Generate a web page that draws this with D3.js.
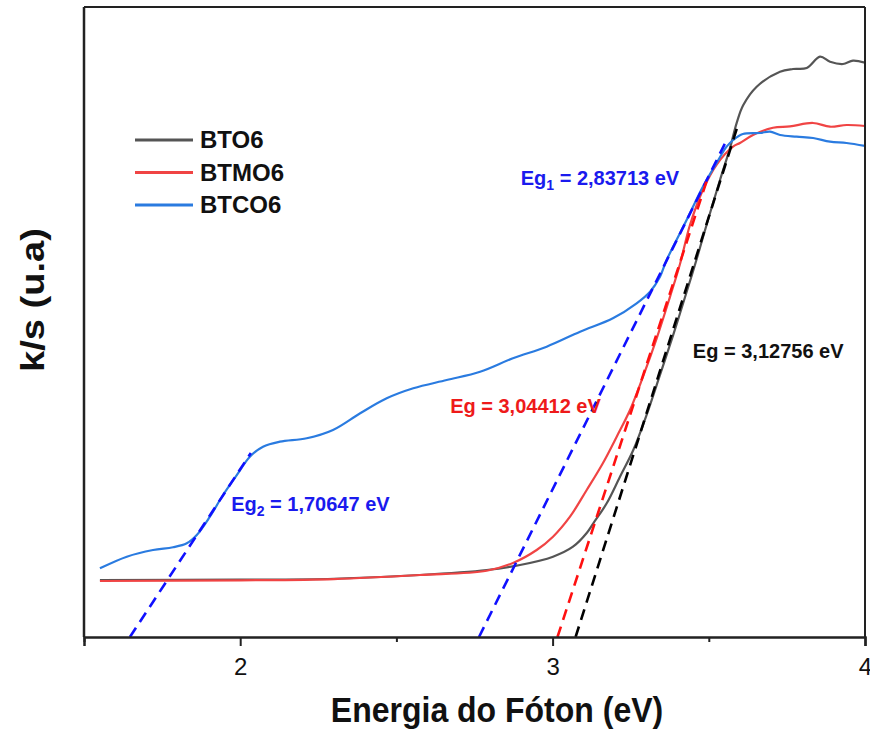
<!DOCTYPE html>
<html>
<head>
<meta charset="utf-8">
<script src="https://cdn.jsdelivr.net/npm/d3@7"></script>
<style>
  body { margin: 0; background: #fff; }
  svg text { font-family: "Liberation Sans", Arial, sans-serif; }
</style>
</head>
<body>
<div id="chart"></div>
<script>
// energy (eV) and k/s (arbitrary units)
let bto6 = [
  [1.551, 9.05], [2.0, 9.1], [2.3, 9.25], [2.5755, 9.84], [2.789, 10.63], [2.8956, 11.43],
  [3.0013, 12.75], [3.0653, 14.33], [3.1092, 16.51], [3.1303, 18.05], [3.1732, 21.22],
  [3.2157, 25.44], [3.2583, 29.68], [3.3012, 35.3], [3.3438, 41.6], [3.3864, 48.0],
  [3.4292, 54.8], [3.4613, 60.0], [3.4974, 66.19], [3.5358, 72.54], [3.5678, 77.6],
  [3.5893, 81.6], [3.6100, 84.4], [3.6533, 87.35], [3.7279, 89.73], [3.7695, 90.16],
  [3.8134, 90.32], [3.8559, 92.11], [3.888, 91.32], [3.9296, 90.95], [3.9616, 91.48], [4.0, 91.16]
];
let btmo6 = [
  [1.551, 8.89], [2.0, 9.0], [2.3, 9.2], [2.5755, 9.84], [2.789, 10.52], [2.8732, 11.75],
  [2.949, 13.81], [3.0013, 15.92], [3.0557, 19.1], [3.1092, 23.33], [3.1613, 27.62],
  [3.2052, 31.79], [3.2478, 36.03], [3.2894, 41.32], [3.3332, 47.4], [3.3758, 54.0],
  [3.4078, 59.2], [3.4397, 65.4], [3.4814, 71.0], [3.5253, 75.0], [3.5775, 77.83],
  [3.5998, 78.41], [3.6415, 79.68], [3.7055, 80.83], [3.7599, 81.05], [3.8335, 81.59],
  [3.888, 81.0], [3.9414, 81.27], [4.0, 81.11]
];
let btco6 = [
  [1.551, 10.9], [1.637, 12.75], [1.721, 13.81], [1.785, 14.24], [1.829, 14.87], [1.861, 16.19],
  [1.903, 19.1], [1.945, 22.54], [1.989, 25.71], [2.031, 28.62], [2.073, 30.21], [2.127, 31.0],
  [2.213, 31.54], [2.297, 32.86], [2.384, 35.51], [2.469, 37.89], [2.554, 39.48], [2.661, 40.79],
  [2.768, 42.11], [2.873, 44.24], [2.981, 46.08], [3.088, 48.46], [3.193, 50.59], [3.269, 52.97],
  [3.312, 54.81], [3.3438, 57.19], [3.365, 59.84], [3.429, 66.19], [3.481, 71.48], [3.525, 75.24],
  [3.557, 77.83], [3.578, 78.89], [3.609, 79.84], [3.664, 80.0], [3.696, 80.21], [3.728, 79.68],
  [3.781, 79.41], [3.834, 79.21], [3.888, 78.62], [3.941, 78.41], [4.0, 77.94]
];

let seriesNames = ["BTO6", "BTMO6", "BTCO6"];
let seriesColors = ["#555555", "#f04444", "#2a7be0"];

// tangent lines used for the band gap estimates
let fitLines = [
  { name: "Eg2", color: "#1010ff", pts: [[1.647, 0], [2.034, 29.2]] },
  { name: "Eg1", color: "#1010ff", pts: [[2.7644, 0], [3.5573, 78.89]] },
  { name: "BTMO6", color: "#ff1010", pts: [[3.0156, 0], [3.4942, 72.54]] },
  { name: "BTO6", color: "#000000", pts: [[3.0736, 0], [3.5934, 81.27]] }
];

let labels = [
  { main: "Eg", sub: "1", rest: " = 2,83713 eV", color: "#1a1aee", x: 2.898, y: 71.75 },
  { main: "Eg", sub: "", rest: " = 3,04412 eV", color: "#ee1a1a", x: 2.672, y: 35.5 },
  { main: "Eg", sub: "", rest: " = 3,12756 eV", color: "#111111", x: 3.449, y: 44.3 },
  { main: "Eg", sub: "2", rest: " = 1,70647 eV", color: "#1a1aee", x: 1.971, y: 20.0 }
];

let majorTicks = [2, 3, 4];
let minorTicks = [1.5, 2.5, 3.5];

let width = 870, height = 729;
let margin = { left: 84, right: 5, top: 7, bottom: 92 };

let svg = d3.select("#chart").append("svg")
  .attr("width", width)
  .attr("height", height);

let x = d3.scaleLinear().domain([1.5, 4]).range([margin.left, width - margin.right]);
let y = d3.scaleLinear().domain([0, 100]).range([height - margin.bottom, margin.top]);

svg.append("clipPath").attr("id", "clip")
  .append("rect")
  .attr("x", x(1.5)).attr("y", y(100))
  .attr("width", x(4) - x(1.5)).attr("height", y(0) - y(100));

let plot = svg.append("g").attr("clip-path", "url(#clip)");

let line = d3.line()
  .x(d => x(d[0]))
  .y(d => y(d[1]))
  .curve(d3.curveCatmullRom);

[bto6, btmo6, btco6].forEach((s, i) => {
  plot.append("path")
    .datum(s)
    .attr("d", line)
    .attr("fill", "none")
    .attr("stroke", seriesColors[i])
    .attr("stroke-width", 2.2);
});

plot.selectAll(".fit")
  .data(fitLines)
  .enter()
  .append("path")
  .attr("class", "fit")
  .attr("d", d => d3.line().x(p => x(p[0])).y(p => y(p[1]))(d.pts))
  .attr("fill", "none")
  .attr("stroke", d => d.color)
  .attr("stroke-width", 2.6)
  .attr("stroke-dasharray", "11,7");

// frame
svg.append("line")
  .attr("x1", x(1.5)).attr("x2", x(4)).attr("y1", y(100)).attr("y2", y(100))
  .attr("stroke", "#222").attr("stroke-width", 2);
svg.append("line")
  .attr("x1", x(4)).attr("x2", x(4)).attr("y1", y(100)).attr("y2", y(0))
  .attr("stroke", "#222").attr("stroke-width", 2);
svg.append("line")
  .attr("x1", x(1.5)).attr("x2", x(1.5)).attr("y1", y(100)).attr("y2", y(0))
  .attr("stroke", "#222").attr("stroke-width", 2.5);

let xAxis = svg.append("g")
  .attr("transform", `translate(0,${y(0)})`)
  .call(d3.axisBottom(x).tickValues(majorTicks).tickFormat(d3.format("d")).tickSize(9).tickPadding(12));
xAxis.select(".domain").attr("stroke", "#222").attr("stroke-width", 2.5);
xAxis.selectAll(".tick line").attr("stroke", "#222").attr("stroke-width", 2);
xAxis.selectAll(".tick text")
  .attr("font-size", 24)
  .attr("fill", "#111")
  .style("font-family", "'Liberation Sans', Arial, sans-serif");

svg.append("g")
  .attr("transform", `translate(0,${y(0)})`)
  .call(d3.axisBottom(x).tickValues(minorTicks).tickFormat("").tickSize(5))
  .call(g => g.select(".domain").remove())
  .selectAll(".tick line").attr("stroke", "#222").attr("stroke-width", 2);

svg.append("text")
  .text("Energia do Fóton (eV)")
  .attr("transform", "translate(497,722) scale(1,1.1)")
  .attr("text-anchor", "middle")
  .attr("font-size", 32)
  .attr("font-weight", "bold")
  .attr("fill", "#111");

svg.append("text")
  .text("k/s (u.a)")
  .attr("transform", "translate(44,300) rotate(-90) scale(1.12,1)")
  .attr("text-anchor", "middle")
  .attr("font-size", 34)
  .attr("font-weight", "bold")
  .attr("fill", "#111");

// legend
let legend = svg.append("g");
seriesNames.forEach((n, i) => {
  legend.append("line")
    .attr("x1", 135).attr("x2", 193)
    .attr("y1", 140 + i * 32.5).attr("y2", 140 + i * 32.5)
    .attr("stroke", seriesColors[i]).attr("stroke-width", 3);
  legend.append("text")
    .text(n)
    .attr("x", 200)
    .attr("y", 140 + i * 32.5 + 8)
    .attr("font-size", 24)
    .attr("font-weight", "bold")
    .attr("fill", "#111");
});

// band gap annotations
labels.forEach(l => {
  let t = svg.append("text")
    .attr("x", x(l.x))
    .attr("y", y(l.y))
    .attr("font-size", 20)
    .attr("font-weight", "bold")
    .attr("fill", l.color);
  t.append("tspan").text(l.main);
  if (l.sub) {
    t.append("tspan").text(l.sub).attr("font-size", 14).attr("dy", 5);
    t.append("tspan").text(l.rest).attr("dy", -5);
  } else {
    t.append("tspan").text(l.rest);
  }
});
</script>
</body>
</html>
